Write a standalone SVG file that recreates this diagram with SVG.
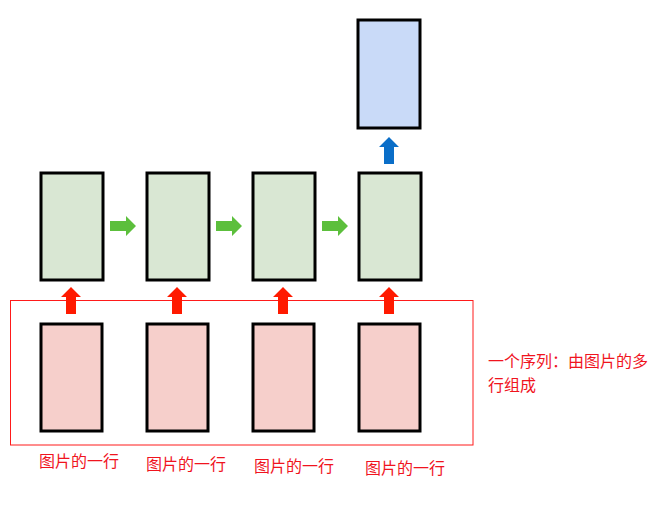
<svg xmlns="http://www.w3.org/2000/svg" width="670" height="505" viewBox="0 0 670 505">
<style>
.box{stroke:#000;stroke-width:3}
.g{fill:#d9e7d3}
.p{fill:#f6cfcb}
.b{fill:#c9daf8}
.lbl{font-family:"Noto Sans CJK SC","Noto Sans",sans-serif;font-size:16px;fill:#f0141e}
</style>
<defs>
<path id="up" d="M-5,0 L-5,-17 L-10,-17 L0,-27 L10,-17 L5,-17 L5,0 Z"/>
<path id="right" d="M0,-5 L16,-5 L16,-10 L26,0 L16,10 L16,5 L0,5 Z"/>
</defs>
<rect x="10.5" y="300.5" width="462.5" height="144.5" fill="none" stroke="#ff1a1a" stroke-width="1"/>
<g id="connectors">
<use href="#up" x="71" y="314" fill="#ff1a00"/>
<use href="#up" x="177" y="314" fill="#ff1a00"/>
<use href="#up" x="283" y="314" fill="#ff1a00"/>
<use href="#up" x="389" y="314" fill="#ff1a00"/>
<use href="#right" x="110" y="226" fill="#5cbf3c"/>
<use href="#right" x="216" y="226" fill="#5cbf3c"/>
<use href="#right" x="322" y="226" fill="#5cbf3c"/>
<use href="#up" x="389" y="164" fill="#0a6ec8"/>
</g>
<g id="out"><rect class="box b" x="358" y="20" width="62" height="108"/></g>
<g id="h1"><rect class="box g" x="41" y="173" width="62" height="107"/></g>
<g id="h2"><rect class="box g" x="147" y="173" width="62" height="107"/></g>
<g id="h3"><rect class="box g" x="253" y="173" width="62" height="107"/></g>
<g id="h4"><rect class="box g" x="359" y="173" width="62" height="107"/></g>
<g id="r1"><rect class="box p" x="41" y="324" width="61" height="107"/><text class="lbl" x="39" y="467">图片的一行</text></g>
<g id="r2"><rect class="box p" x="147" y="324" width="61" height="107"/><text class="lbl" x="146" y="470">图片的一行</text></g>
<g id="r3"><rect class="box p" x="253" y="324" width="61" height="107"/><text class="lbl" x="254" y="472">图片的一行</text></g>
<g id="r4"><rect class="box p" x="359" y="324" width="61" height="107"/><text class="lbl" x="365" y="474">图片的一行</text></g>
<g id="note"><text class="lbl" x="488" y="367">一个序列：由图片的多</text><text class="lbl" x="488" y="391">行组成</text></g>
</svg>
